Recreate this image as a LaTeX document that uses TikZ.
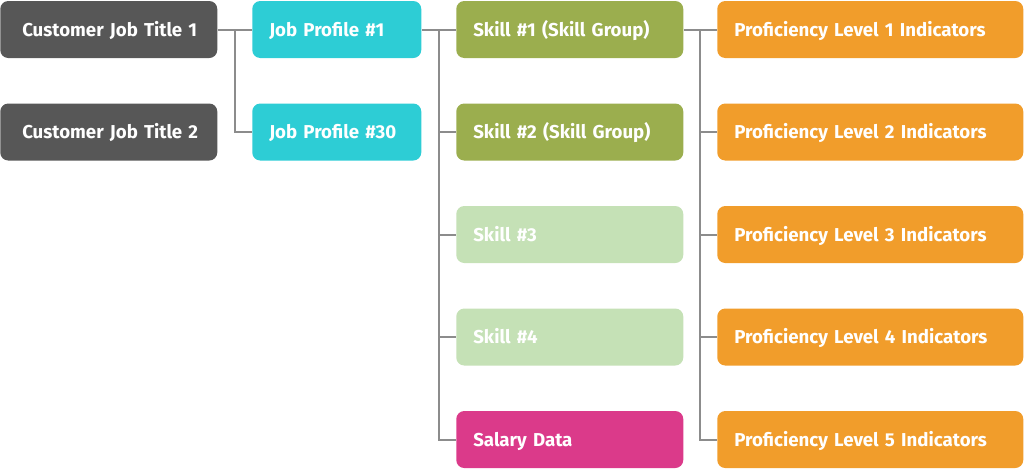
\documentclass[tikz,border=0pt]{standalone}
\usepackage{fontspec}
\setmainfont{Fira Sans}[BoldFont={Fira Sans Bold}]
\usetikzlibrary{calc}
\definecolor{cjt}{HTML}{575757}
\definecolor{jp}{HTML}{2DCDD5}
\definecolor{skA}{HTML}{9BAE4E}
\definecolor{skB}{HTML}{C5E1B6}
\definecolor{sal}{HTML}{DB3A8A}
\definecolor{prof}{HTML}{F19D2B}
\definecolor{conn}{HTML}{8C8C8C}
\begin{document}
\begin{tikzpicture}[x=0.75pt,y=-0.75pt,
  box/.style={rectangle,rounded corners=6pt,minimum height=42.75pt,inner sep=0pt,
    text height=\dimexpr0.69em+3pt\relax,text depth=0pt,
    text=white,font=\bfseries\fontsize{14}{16}\selectfont,align=left,anchor=west},
  cjtbox/.style={box,fill=cjt,text width=162.75pt,execute at begin node={\hspace*{16.5pt}}},
  jpbox/.style={box,fill=jp,text width=126.75pt,execute at begin node={\hspace*{12.75pt}}},
  skbox/.style={box,text width=170.25pt,execute at begin node={\hspace*{12.75pt}}},
  prbox/.style={box,fill=prof,text width=229.5pt,execute at begin node={\hspace*{12.75pt}}},
  link/.style={draw=conn,line width=1.5pt}]
\useasboundingbox (0,0) rectangle (1024,469);
% column 1
\node[cjtbox] (c1) at (0,29.5) {Customer Job Title 1};
\node[cjtbox] (c2) at (0,132) {Customer Job Title 2};
% column 2
\node[jpbox] (j1) at (252,29.5) {Job Profile \#1};
\node[jpbox] (j2) at (252,132) {Job Profile \#30};
% column 3
\node[skbox,fill=skA] (s1) at (456,29.5) {Skill \#1 (Skill Group)};
\node[skbox,fill=skA] (s2) at (456,132) {Skill \#2 (Skill Group)};
\node[skbox,fill=skB] (s3) at (456,234.5) {Skill \#3};
\node[skbox,fill=skB] (s4) at (456,337) {Skill \#4};
\node[skbox,fill=sal] (s5) at (456,439.5) {Salary Data};
% column 4
\node[prbox] (p1) at (717,29.5) {Proficiency Level 1 Indicators};
\node[prbox] (p2) at (717,132) {Proficiency Level 2 Indicators};
\node[prbox] (p3) at (717,234.5) {Proficiency Level 3 Indicators};
\node[prbox] (p4) at (717,337) {Proficiency Level 4 Indicators};
\node[prbox] (p5) at (717,439.5) {Proficiency Level 5 Indicators};
% connectors
\coordinate (m1) at ($(c1.east)!0.5!(j1.west)$);
\coordinate (m2) at ($(j1.east)!0.5!(s1.west)$);
\coordinate (m3) at ($(s1.east)!0.5!(p1.west)$);
\draw[link] (c1.east) -- (j1.west);
\draw[link] (m1) |- (j2.west);
\draw[link] (j1.east) -- (s1.west);
\foreach \n in {s2,s3,s4,s5} \draw[link] (m2) |- (\n.west);
\draw[link] (s1.east) -- (p1.west);
\foreach \n in {p2,p3,p4,p5} \draw[link] (m3) |- (\n.west);
\end{tikzpicture}
\end{document}
